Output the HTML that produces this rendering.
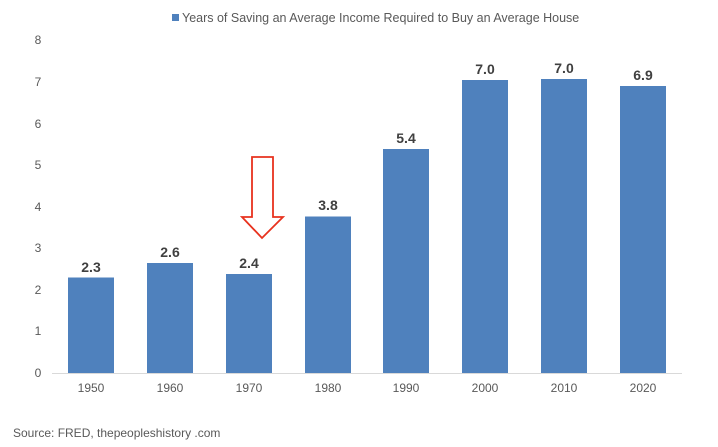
<!DOCTYPE html>
<html><head><style>body{margin:0;background:#fff}</style></head><body>
<svg width="718" height="442" xmlns="http://www.w3.org/2000/svg" font-family="Liberation Sans, sans-serif">
<rect x="172" y="14" width="7" height="7" fill="#4f81bd"/>
<text x="182" y="22" font-size="12.5" fill="#595959">Years of Saving an Average Income Required to Buy an Average House</text>
<g font-size="12" fill="#595959" text-anchor="middle">
<text x="38" y="377">0</text><text x="38" y="335">1</text><text x="38" y="294">2</text><text x="38" y="252">3</text><text x="38" y="211">4</text><text x="38" y="169">5</text><text x="38" y="128">6</text><text x="38" y="86">7</text><text x="38" y="44">8</text>
</g>
<line x1="52" y1="373.5" x2="682" y2="373.5" stroke="#d9d9d9" stroke-width="1"/>
<g fill="#4f81bd">
<rect x="68" y="277.5" width="46" height="95.5"/>
<rect x="147" y="263" width="46" height="110"/>
<rect x="226" y="274" width="46" height="99"/>
<rect x="305" y="216.5" width="46" height="156.5"/>
<rect x="383" y="149" width="46" height="224"/>
<rect x="462" y="80" width="46" height="293"/>
<rect x="541" y="79" width="46" height="294"/>
<rect x="620" y="86" width="46" height="287"/>
</g>
<g font-size="14" font-weight="bold" fill="#404040" text-anchor="middle">
<text x="91" y="272">2.3</text><text x="170" y="257">2.6</text><text x="249" y="268">2.4</text><text x="328" y="210">3.8</text><text x="406" y="143">5.4</text><text x="485" y="74">7.0</text><text x="564" y="73">7.0</text><text x="643" y="80">6.9</text>
</g>
<g font-size="12" fill="#595959" text-anchor="middle">
<text x="91" y="392">1950</text><text x="170" y="392">1960</text><text x="249" y="392">1970</text><text x="328" y="392">1980</text><text x="406" y="392">1990</text><text x="485" y="392">2000</text><text x="564" y="392">2010</text><text x="643" y="392">2020</text>
</g>
<polygon points="252,157 273,157 273,217 283,217 262,238 242,217 252,217" fill="none" stroke="#e8321e" stroke-width="1.8"/>
<text x="13" y="437" font-size="12" fill="#595959">Source: FRED, thepeopleshistory .com</text>
</svg>
</body></html>
